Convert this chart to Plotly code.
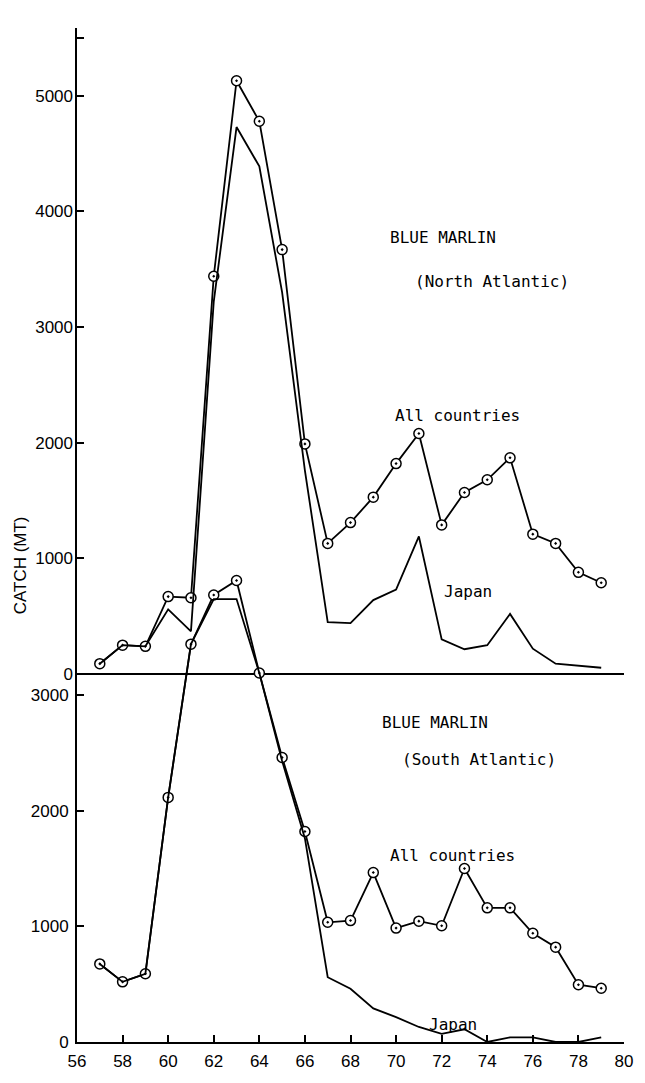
import plotly.graph_objects as go

# Catch of blue marlin (metric tons) by year, 1957-1979
years = list(range(57, 80))

# North Atlantic
na_all = [90, 250, 240, 670, 660, 3440, 5130, 4780, 3670, 1990, 1130, 1310,
          1530, 1820, 2080, 1290, 1570, 1680, 1870, 1210, 1130, 880, 790]
na_japan = [90, 250, 240, 560, 370, 3220, 4730, 4390, 3300, 1760, 450, 440,
            640, 730, 1190, 300, 215, 250, 520, 220, 90, 70, 55]

# South Atlantic
sa_all = [675, 520, 590, 2115, 3440, 3865, 3990, 3190, 2460, 1820, 1035, 1050,
          1465, 985, 1045, 1005, 1500, 1160, 1160, 940, 820, 495, 465]
sa_japan = [675, 520, 590, 2115, 3440, 3830, 3830, 3190, 2430, 1760, 560, 460,
            290, 215, 130, 70, 110, 0, 40, 40, 0, 0, 40]

x_ticks = list(range(56, 81, 2))
na_ticks = [0, 1000, 2000, 3000, 4000, 5000, 5500]
na_ticktext = ["0", "1000", "2000", "3000", "4000", "5000", ""]
sa_ticks = [0, 1000, 2000, 3000]

W, H = 645, 1083
ML, MR, MT, MB = 77, 12, 28, 38
plot_h = H - MT - MB
px_per_unit = 0.116          # vertical scale shared by both panels
na_zero_px = 676             # pixel row of the North Atlantic zero line

na_range = [-(H - MB - na_zero_px) / px_per_unit, (na_zero_px - MT) / px_per_unit]
sa_range = [0, plot_h / px_per_unit]

INK = "black"
LW = 1.8
marker = dict(symbol="circle-dot", size=10, color="white",
              line=dict(color=INK, width=1.5))

fig = go.Figure()
fig.add_trace(go.Scatter(x=years, y=na_all, yaxis="y2", mode="lines+markers",
                         line=dict(color=INK, width=LW), marker=marker,
                         name="All countries (North Atlantic)"))
fig.add_trace(go.Scatter(x=years, y=na_japan, yaxis="y2", mode="lines",
                         line=dict(color=INK, width=LW),
                         name="Japan (North Atlantic)"))
fig.add_trace(go.Scatter(x=years, y=sa_all, yaxis="y", mode="lines+markers",
                         line=dict(color=INK, width=LW), marker=marker,
                         name="All countries (South Atlantic)"))
fig.add_trace(go.Scatter(x=years, y=sa_japan, yaxis="y", mode="lines",
                         line=dict(color=INK, width=LW),
                         name="Japan (South Atlantic)"))

tick_font = dict(family="Liberation Sans, Arial, sans-serif", size=17, color=INK)
label_font = dict(family="DejaVu Sans Mono, monospace", size=16, color=INK)

fig.update_layout(
    width=W, height=H,
    margin=dict(l=ML, r=MR, t=MT, b=MB),
    paper_bgcolor="white", plot_bgcolor="white",
    showlegend=False,
    xaxis=dict(range=[56, 80], tickvals=x_ticks, ticks="inside", ticklen=7,
               tickwidth=1.5, tickcolor=INK, showline=True, linecolor=INK,
               linewidth=LW, showgrid=False, zeroline=False,
               tickfont=tick_font, ticklabelstandoff=3),
    yaxis=dict(range=sa_range, domain=[0, 1], tickvals=sa_ticks,
               ticks="inside", ticklen=7, tickwidth=1.5, tickcolor=INK,
               showline=True, linecolor=INK, linewidth=LW, showgrid=False,
               zeroline=False, tickfont=tick_font, ticklabelstandoff=3),
    yaxis2=dict(range=na_range, overlaying="y", side="left",
                tickvals=na_ticks, ticktext=na_ticktext,
                ticks="inside", ticklen=7, tickwidth=1.5, tickcolor=INK,
                showline=False, showgrid=False, zeroline=True,
                zerolinecolor=INK, zerolinewidth=LW,
                tickfont=tick_font, ticklabelstandoff=3),
)


def px_to_paper(xp, yp):
    return (xp - ML) / (W - ML - MR), (H - MB - yp) / plot_h


labels = [
    ("BLUE MARLIN", 393, 238),
    ("(North Atlantic)", 419, 282),
    ("All countries", 398, 417),
    ("Japan", 448, 593),
    ("BLUE MARLIN", 385, 725),
    ("(South Atlantic)", 405, 762),
    ("All countries", 393, 858),
    ("Japan", 433, 1027),
]
for text, lx, ly in labels:
    ax, ay = px_to_paper(lx, ly)
    fig.add_annotation(text=text, x=ax, y=ay, xref="paper", yref="paper",
                       xanchor="left", yanchor="middle", showarrow=False,
                       font=label_font)

cx, cy = px_to_paper(19, 567)
fig.add_annotation(text="CATCH (MT)", x=cx, y=cy, xref="paper", yref="paper",
                   xanchor="center", yanchor="middle", textangle=-90,
                   showarrow=False,
                   font=dict(family="Liberation Sans, Arial, sans-serif",
                             size=17, color=INK))

fig.write_html("out.html")
